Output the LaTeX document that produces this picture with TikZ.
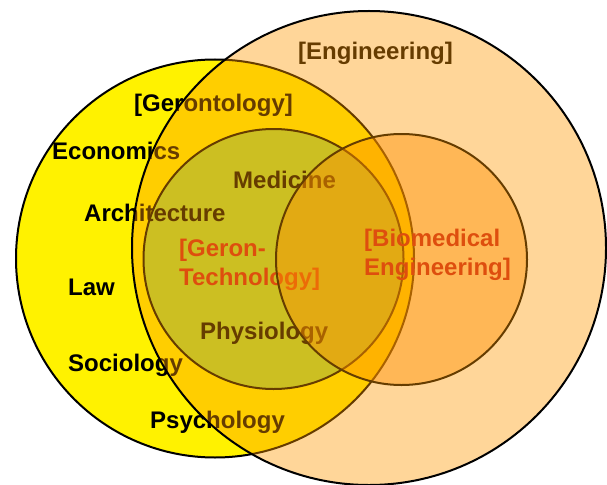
\documentclass[tikz,border=0pt]{standalone}
\usepackage{fontspec}
\setmainfont{Liberation Sans}
\definecolor{medfill}{RGB}{170,217,57}
\definecolor{engfill}{RGB}{255,152,0}
\definecolor{biofill}{RGB}{255,145,0}
\definecolor{bioline}{RGB}{102,61,0}
\definecolor{techred}{RGB}{222,78,14}
\tikzset{lbl/.style={font=\bfseries\fontsize{24}{29}\selectfont, inner sep=0pt, anchor=base west},
  ring/.style={line width=2pt}}

\begin{document}
\begin{tikzpicture}[x=1pt,y=-1pt]
\useasboundingbox (0,0) rectangle (607,484);
\clip (0,0) rectangle (607,484);
\draw[ring, fill=yellow] (215,258.5) circle (199pt);
\draw[ring, fill=medfill] (273.5,259) circle (130pt);
\node[lbl] (eng) at (298,60) {[Engineering]};
\node[lbl] (ger) at (134,111) {[Gerontology]};
\node[lbl] (eco) at (52,159.5) {Economics};
\node[lbl] (med) at (233,188.5) {Medicine};
\node[lbl] (arc) at (84,221.5) {Architecture};
\node[lbl] (law) at (68,295.5) {Law};
\node[lbl] (phy) at (200,339.5) {Physiology};
\node[lbl] (soc) at (68,371.5) {Sociology};
\node[lbl] (psy) at (150,428.5) {Psychology};
\draw[ring, fill=engfill, fill opacity=0.4] (369,248) circle (237pt);
\node[lbl, text=techred, align=left] (gtech) at (179,285) {[Geron-\\Technology]};
\draw[ring, draw=bioline, fill=biofill, fill opacity=0.44] (401.5,259.5) circle (125.5pt);
\node[lbl, text=techred, align=left] (bme) at (364,275.5) {[Biomedical\\Engineering]};
\end{tikzpicture}
\end{document}
